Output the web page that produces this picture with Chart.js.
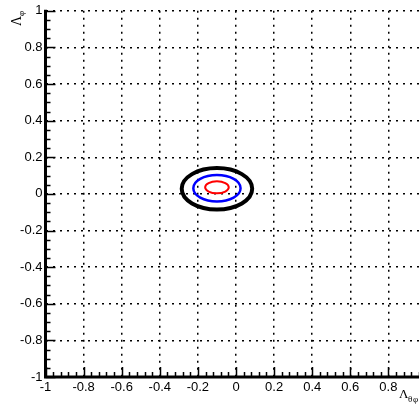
<!DOCTYPE html>
<html>
<head>
<meta charset="utf-8">
<script src="https://cdn.jsdelivr.net/npm/chart.js@4.4.1/dist/chart.umd.min.js"></script>
<style>
  html, body { margin: 0; padding: 0; background: #fff; overflow: hidden; }
  #wrap { width: 419px; height: 413px; overflow: hidden; }
</style>
</head>
<body>
<div id="wrap"><canvas id="grafico" width="450" height="413"></canvas></div>
<script>
// Contornos (centro y semiejes en unidades de los ejes)
const nombresContornos = ['exterior', 'medio', 'interior'];
const centroX = [-0.10, -0.10, -0.10];
const centroY = [0.028, 0.031, 0.036];
const semiejeX = [0.185, 0.124, 0.062];
const semiejeY = [0.113, 0.072, 0.033];
const coloresContornos = ['#000000', '#0000ff', '#ff0000'];
const grosoresContornos = [4, 2.5, 2];

// Ejes
const rangoX = [-1, 1];
const rangoY = [-1, 1];
const pasoMayor = 0.2;
const pasoMenorX = 0.04;
const pasoMenorY = 0.05;

const fuenteTicks = { family: 'Liberation Sans, Arial, Helvetica', size: 13 };

function formatoTick(valor) {
  return String(Number(valor.toFixed(1)));
}

// Plugin: elipses de contorno, ejes gruesos, marcas internas y títulos
const pluginContornos = {
  id: 'contornos',
  afterDatasetsDraw(chart) {
    const ctx = chart.ctx;
    const sx = chart.scales.x;
    const sy = chart.scales.y;
    const area = chart.chartArea;

    // elipses
    for (let i = 0; i < centroX.length; i++) {
      const cx = sx.getPixelForValue(centroX[i]);
      const cy = sy.getPixelForValue(centroY[i]);
      const rx = Math.abs(sx.getPixelForValue(centroX[i] + semiejeX[i]) - cx);
      const ry = Math.abs(sy.getPixelForValue(centroY[i] + semiejeY[i]) - cy);
      ctx.save();
      ctx.beginPath();
      ctx.ellipse(cx, cy, rx, ry, 0, 0, Math.PI * 2);
      ctx.strokeStyle = coloresContornos[i];
      ctx.lineWidth = grosoresContornos[i];
      ctx.stroke();
      ctx.restore();
    }

    ctx.save();
    ctx.strokeStyle = '#000';
    // marcas del eje X (hacia dentro)
    ctx.lineWidth = 1.5;
    const nX = Math.round((rangoX[1] - rangoX[0]) / pasoMenorX);
    for (let k = 0; k <= nX; k++) {
      const v = rangoX[0] + k * pasoMenorX;
      const esMayor = Math.abs(v / pasoMayor - Math.round(v / pasoMayor)) < 1e-6;
      const px = Math.round(sx.getPixelForValue(v)) + 0.5;
      ctx.beginPath();
      ctx.moveTo(px, area.bottom);
      ctx.lineTo(px, area.bottom - (esMayor ? 10 : 5));
      ctx.stroke();
    }
    const nY = Math.round((rangoY[1] - rangoY[0]) / pasoMenorY);
    for (let k = 0; k <= nY; k++) {
      const v = rangoY[0] + k * pasoMenorY;
      const esMayor = Math.abs(v / pasoMayor - Math.round(v / pasoMayor)) < 1e-6;
      const py = Math.round(sy.getPixelForValue(v)) + 0.5;
      ctx.beginPath();
      ctx.moveTo(area.left, py);
      ctx.lineTo(area.left + (esMayor ? 10 : 5), py);
      ctx.stroke();
    }

    // ejes gruesos
    ctx.lineWidth = 3;
    ctx.beginPath();
    ctx.moveTo(area.left, area.top - 1);
    ctx.lineTo(area.left, area.bottom);
    ctx.lineTo(area.right + 2, area.bottom);
    ctx.stroke();

    // títulos de ejes
    ctx.fillStyle = '#000';
    ctx.font = '14px "Liberation Serif", "Times New Roman", serif';
    ctx.textBaseline = 'alphabetic';
    ctx.save();
    ctx.translate(21, 26);
    ctx.rotate(-Math.PI / 2);
    ctx.fillText('Λ', 0, 0);
    ctx.font = '9px "Liberation Serif", "Times New Roman", serif';
    ctx.fillText('φ', 10, 3);
    ctx.restore();

    ctx.font = '13px "Liberation Serif", "Times New Roman", serif';
    ctx.fillText('Λ', 399, 398);
    ctx.font = '9px "Liberation Serif", "Times New Roman", serif';
    ctx.fillText('θ', 408, 402);
    ctx.fillText('φ', 413, 402);
    ctx.restore();
  }
};

new Chart(document.getElementById('grafico'), {
  type: 'scatter',
  data: {
    datasets: [{
      label: 'centros',
      data: centroX.map((x, i) => ({ x: x, y: centroY[i] })),
      pointRadius: 0,
      showLine: false
    }]
  },
  options: {
    responsive: false,
    animation: false,
    events: [],
    layout: { padding: { left: 0, top: 9, right: 23.5, bottom: 0 } },
    plugins: { legend: { display: false }, tooltip: { enabled: false } },
    scales: {
      x: {
        type: 'linear',
        min: rangoX[0],
        max: rangoX[1],
        afterFit(scale) { scale.height = 36; },
        ticks: { stepSize: pasoMayor, autoSkip: false, maxRotation: 0, color: '#000', font: fuenteTicks, padding: 3, callback: formatoTick },
        grid: { color: '#000', lineWidth: 1.5, drawTicks: false },
        border: { display: false, dash: [2, 5] }
      },
      y: {
        type: 'linear',
        min: rangoY[0],
        max: rangoY[1],
        afterFit(scale) { scale.width = 45.5; },
        ticks: { stepSize: pasoMayor, autoSkip: false, color: '#000', font: fuenteTicks, padding: 3, callback: formatoTick },
        grid: { color: '#000', lineWidth: 1.5, drawTicks: false },
        border: { display: false, dash: [2, 5] }
      }
    }
  },
  plugins: [pluginContornos]
});
</script>
</body>
</html>
